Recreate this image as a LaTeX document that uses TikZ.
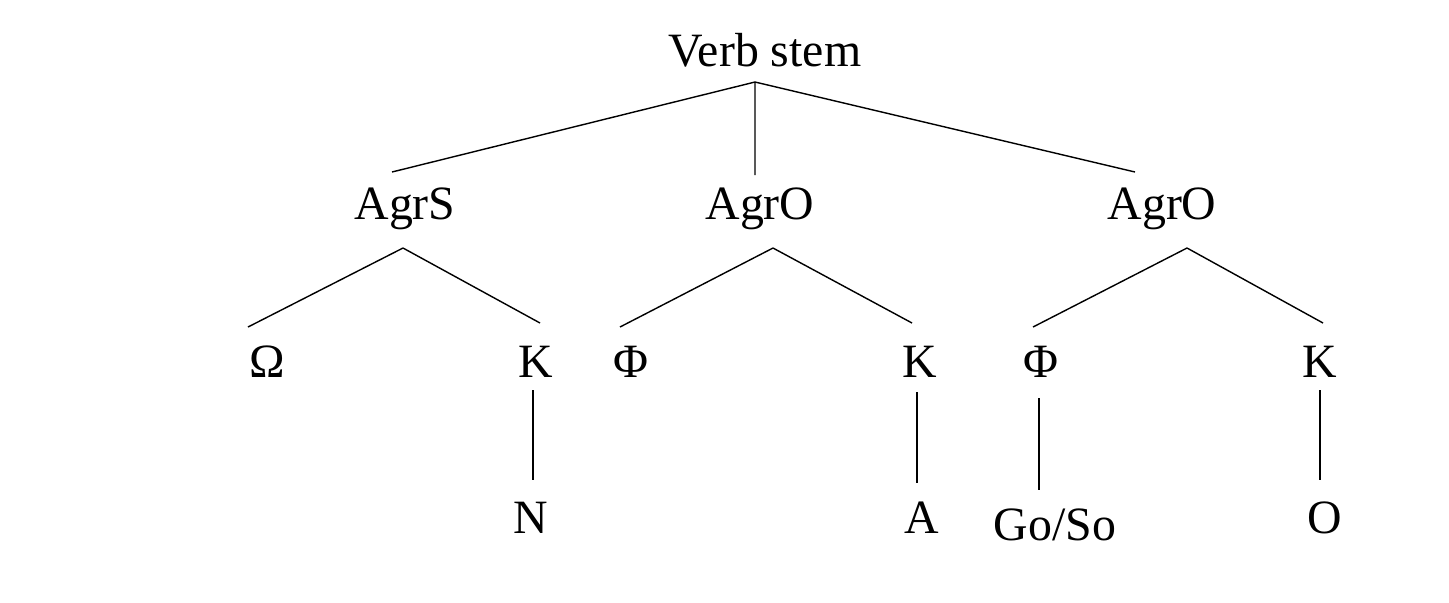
\documentclass[tikz,border=0pt]{standalone}
\usepackage{fontspec}
\setmainfont{Liberation Serif}
\begin{document}
\begin{tikzpicture}[x=0.01cm,y=-0.01cm,lab/.style={inner sep=0pt,font=\fontsize{13.6}{16}\selectfont},edge/.style={line width=0.4pt}]
\useasboundingbox (0,0) rectangle (1449,602);
\node[lab] (vs) at (765,50) {Verb stem};
\node[lab] (s) at (405,209) {AgrS};
\node[lab] (o1) at (760,209) {AgrO};
\node[lab] (o2) at (1162,209) {AgrO};
\node[lab] (om) at (267,362) {Ω};
\node[lab] (k1) at (536,362) {K};
\node[lab] (f1) at (631,362) {Φ};
\node[lab] (k2) at (920,362) {K};
\node[lab] (f2) at (1041,362) {Φ};
\node[lab] (k3) at (1320,362) {K};
\node[lab] (n) at (531,518) {N};
\node[lab] (a) at (922,518) {A};
\node[lab] (gs) at (1055,525) {Go/So};
\node[lab] (o) at (1325,518) {O};
\coordinate (vsb) at (755,82);
\coordinate (st) at (392,172);
\coordinate (o1t) at (755,175);
\coordinate (o2t) at (1135,172);
\coordinate (sb) at (403,248);
\coordinate (omt) at (248,327);
\coordinate (k1t) at (540,323);
\coordinate (o1b) at (773,248);
\coordinate (f1t) at (620,327);
\coordinate (k2t) at (912,323);
\coordinate (o2b) at (1187,248);
\coordinate (f2t) at (1033,327);
\coordinate (k3t) at (1323,323);
\coordinate (k1b) at (533,390); \coordinate (nt) at (533,480);
\coordinate (k2b) at (917,392); \coordinate (at) at (917,483);
\coordinate (f2b) at (1039,398); \coordinate (gst) at (1039,490);
\coordinate (k3b) at (1320,390); \coordinate (ot) at (1320,480);
\draw[edge] (vsb)--(st) (vsb)--(o1t) (vsb)--(o2t);
\draw[edge] (sb)--(omt) (sb)--(k1t) (o1b)--(f1t) (o1b)--(k2t) (o2b)--(f2t) (o2b)--(k3t);
\draw[edge] (k1b)--(nt) (k2b)--(at) (f2b)--(gst) (k3b)--(ot);
\end{tikzpicture}
\end{document}
